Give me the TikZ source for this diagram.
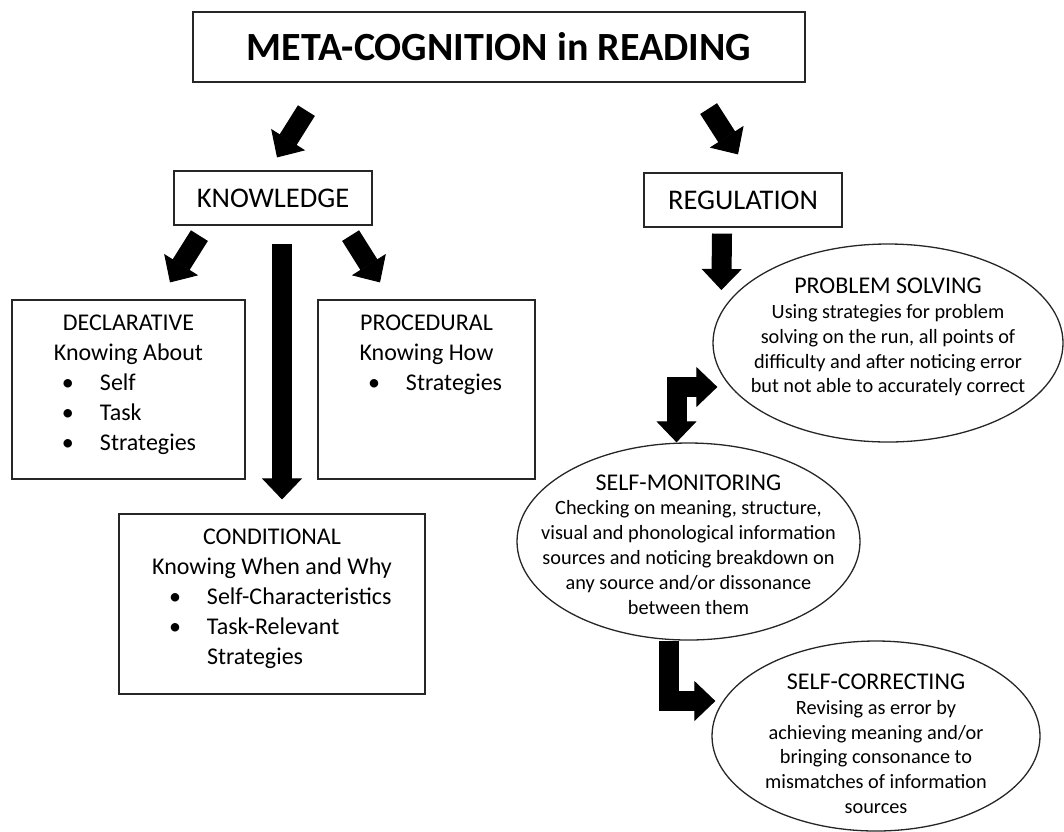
\documentclass[tikz,border=0pt]{standalone}
\usepackage{fontspec}
\setmainfont{Carlito}
\usetikzlibrary{arrows.meta,shapes.geometric,calc}

\newcommand{\itm}[1]{\par\hangindent=88pt\hangafter=1\hspace*{50pt}\makebox[38pt][l]{\textbullet}#1}
\newcommand{\panel}[4]{\parbox[c][#2][t]{#1}{\vspace*{14.5pt}{\centering #3\par}\raggedright #4}}
\newcommand{\ovaltitle}[2][0pt]{{\fontsize{24}{25}\selectfont\rule{0pt}{#1}#2}}

\begin{document}
\begin{tikzpicture}[x=1pt,y=-1pt,
    box/.style={draw=black!85,line width=1.2pt,inner sep=0pt,font=\fontsize{24}{30}\selectfont},
    oval/.style={draw=black!85,ellipse,line width=1.3pt,inner xsep=-40pt,inner ysep=-40pt,align=center,font=\fontsize{20.3}{24.8}\selectfont},
    >={Triangle[width=40pt,length=21pt,line width=1pt]},
    fat/.style={line width=20pt,line join=miter,->}]
    \useasboundingbox (0,0) rectangle (1064,831);
    \node[box,minimum width=612pt,minimum height=70pt,font=\fontsize{40}{48}\selectfont\bfseries] (meta) at (499,47) {META-COGNITION in READING};
    \node[box,minimum width=198pt,minimum height=54pt,font=\fontsize{28.5}{32}\selectfont] (knowledge) at (273,198) {KNOWLEDGE};
    \node[box,minimum width=198pt,minimum height=54pt,font=\fontsize{28.5}{32}\selectfont] (regulation) at (743,200) {REGULATION};
    \node[box] (declarative) at (128.5,389.5) {\panel{233pt}{179pt}{DECLARATIVE\\Knowing About}{\itm{Self}\itm{Task}\itm{Strategies}}};
    \node[box] (procedural) at (426.5,389.5) {\panel{217pt}{179pt}{PROCEDURAL\\Knowing How}{\itm{Strategies}}};
    \node[box] (conditional) at (272,604) {\panel{306pt}{180pt}{CONDITIONAL\\Knowing When and Why}{\itm{Self-Characteristics}\itm{Task-Relevant\newline Strategies}}};
    \node[oval,minimum width=350pt,minimum height=198pt] (solving) at (888,343) {\ovaltitle{PROBLEM SOLVING}\\Using strategies for problem\\solving on the run, all points of\\difficulty and after noticing error\\but not able to accurately correct\rule[-15pt]{0pt}{15pt}};
    \node[oval,minimum width=343pt,minimum height=197pt] (monitoring) at (688.5,541.5) {\ovaltitle[21.5pt]{SELF-MONITORING}\\Checking on meaning, structure,\\visual and phonological information\\sources and noticing breakdown on\\any source and/or dissonance\\between them};
    \node[oval,minimum width=328pt,minimum height=190pt] (correcting) at (876,736) {\ovaltitle[31pt]{SELF-CORRECTING}\\Revising as error by\\achieving meaning and/or\\bringing consonance to\\mismatches of information\\sources};
    \draw[fat] ($(meta.south west)+(114,28)$) -- ($(knowledge.north)+(4,-13)$);
    \draw[fat] ($(meta.south east)+(-97,26)$) -- ($(regulation.north)+(-5,-18)$);
    \draw[fat] ($(knowledge.south west)+(26,10)$) -- ($(declarative.north)+(41.5,-17)$);
    \draw[fat] ($(knowledge.south east)+(-22,10)$) -- ($(procedural.north)+(-46.5,-17)$);
    \draw[fat] ($(knowledge.south)+(9,18)$) -- ($(conditional.north)+(10,-14)$);
    \draw[fat] ($(regulation.south)+(-21,6)$) -- ($(solving.west)+(9,-53)$);
    \draw[fat,<->] ($(solving.west)+(5,44)$) -| ($(monitoring.north)+(-12,0)$);
    \draw[fat] ($(monitoring.south)+(-20,0)$) |- ($(correcting.west)+(4,-35)$);
\end{tikzpicture}
\end{document}
